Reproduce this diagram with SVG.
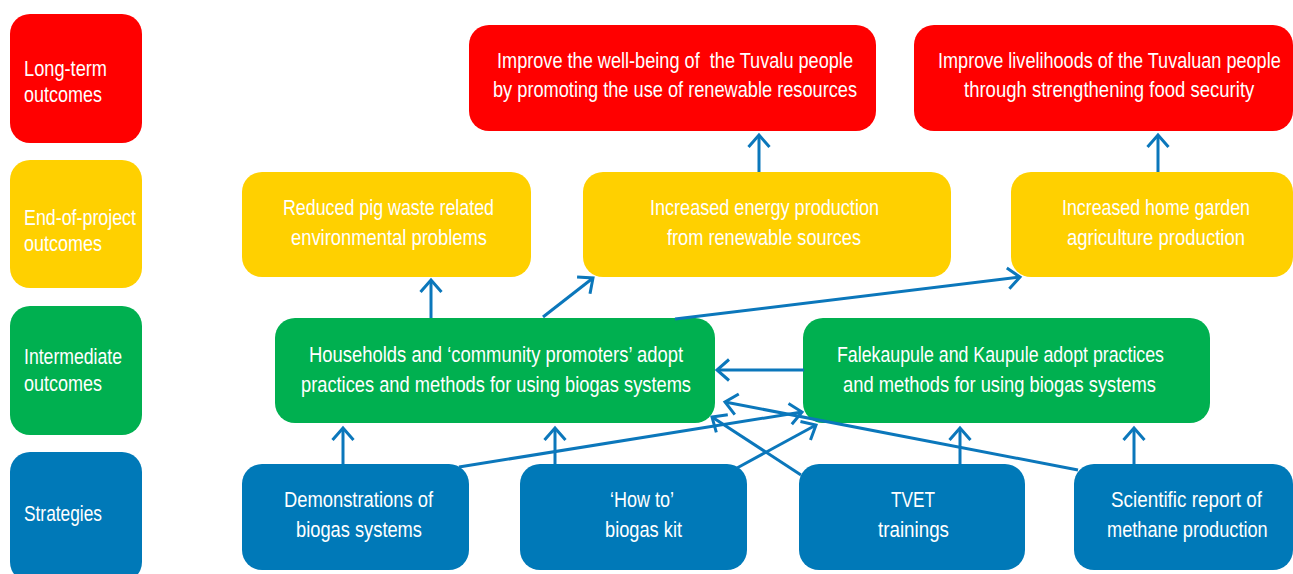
<svg xmlns="http://www.w3.org/2000/svg" width="1293" height="574" viewBox="0 0 1293 574">
<style>
  .lt{fill:#FF0000}
  .ep{fill:#FFD000}
  .im{fill:#00B050}
  .st{fill:#0079B8}
  text{font-family:"Liberation Sans Narrow","Liberation Sans",Arial,sans-serif;font-size:22px;fill:#FFFFFF}
  .c{stroke:#0B77BB;stroke-width:3;fill:none;marker-end:url(#ah)}
</style>
<defs>
  <marker id="ah" markerUnits="userSpaceOnUse" markerWidth="30" markerHeight="30" viewBox="-15 -15 30 30" refX="0" refY="0" orient="auto" overflow="visible">
    <path d="M-12,-10.5 L0,0 L-12,10.5" fill="none" stroke="#0B77BB" stroke-width="3" stroke-linejoin="miter"/>
  </marker>
</defs>
<rect width="1293" height="574" fill="#FFFFFF"/>

<g id="legend-longterm">
  <rect class="lt" x="10" y="14" width="132" height="129" rx="20"/>
  <text x="24" y="76" textLength="83" lengthAdjust="spacingAndGlyphs">Long-term</text>
  <text x="24" y="102" textLength="78" lengthAdjust="spacingAndGlyphs">outcomes</text>
</g>
<g id="legend-endofproject">
  <rect class="ep" x="10" y="160" width="132" height="128" rx="20"/>
  <text x="24" y="225" textLength="112" lengthAdjust="spacingAndGlyphs">End-of-project</text>
  <text x="24" y="251" textLength="78" lengthAdjust="spacingAndGlyphs">outcomes</text>
</g>
<g id="legend-intermediate">
  <rect class="im" x="10" y="306" width="132" height="129" rx="20"/>
  <text x="24" y="364" textLength="98" lengthAdjust="spacingAndGlyphs">Intermediate</text>
  <text x="24" y="391" textLength="78" lengthAdjust="spacingAndGlyphs">outcomes</text>
</g>
<g id="legend-strategies">
  <rect class="st" x="10" y="452" width="132" height="130" rx="20"/>
  <text x="24" y="521" textLength="78" lengthAdjust="spacingAndGlyphs">Strategies</text>
</g>

<g id="lt1">
  <rect class="lt" x="469" y="25" width="407" height="106" rx="20"/>
  <text x="497" y="68" textLength="356" lengthAdjust="spacingAndGlyphs" style="white-space:pre">Improve the well-being of  the Tuvalu people</text>
  <text x="493" y="97" textLength="364" lengthAdjust="spacingAndGlyphs">by promoting the use of renewable resources</text>
</g>
<g id="lt2">
  <rect class="lt" x="914" y="25" width="379" height="106" rx="20"/>
  <text transform="translate(938,68) scale(0.82,1)" x="0" y="0" textLength="418" lengthAdjust="spacingAndGlyphs">Improve livelihoods of the Tuvaluan people</text>
  <text transform="translate(964,97) scale(0.82,1)" x="0" y="0" textLength="354" lengthAdjust="spacingAndGlyphs">through strengthening food security</text>
</g>

<g id="ep1">
  <rect class="ep" x="242" y="172" width="289" height="105" rx="20"/>
  <text x="283" y="215" textLength="211" lengthAdjust="spacingAndGlyphs">Reduced pig waste related</text>
  <text x="291" y="245" textLength="196" lengthAdjust="spacingAndGlyphs">environmental problems</text>
</g>
<g id="ep2">
  <rect class="ep" x="583" y="172" width="368" height="105" rx="20"/>
  <text x="650" y="215" textLength="229" lengthAdjust="spacingAndGlyphs">Increased energy production</text>
  <text x="667" y="245" textLength="194" lengthAdjust="spacingAndGlyphs">from renewable sources</text>
</g>
<g id="ep3">
  <rect class="ep" x="1011" y="172" width="282" height="105" rx="20"/>
  <text x="1062" y="215" textLength="188" lengthAdjust="spacingAndGlyphs">Increased home garden</text>
  <text x="1067" y="245" textLength="178" lengthAdjust="spacingAndGlyphs">agriculture production</text>
</g>

<g id="im1">
  <rect class="im" x="275" y="318" width="440" height="105" rx="20"/>
  <text x="309" y="362" textLength="374" lengthAdjust="spacingAndGlyphs">Households and ‘community promoters’ adopt</text>
  <text x="301" y="392" textLength="390" lengthAdjust="spacingAndGlyphs">practices and methods for using biogas systems</text>
</g>
<g id="im2">
  <rect class="im" x="803" y="318" width="407" height="105" rx="20"/>
  <text x="837" y="362" textLength="327" lengthAdjust="spacingAndGlyphs">Falekaupule and Kaupule adopt practices</text>
  <text x="843" y="392" textLength="313" lengthAdjust="spacingAndGlyphs">and methods for using biogas systems</text>
</g>

<g id="st1">
  <rect class="st" x="242" y="464" width="227" height="106" rx="20"/>
  <text x="284" y="507" textLength="149" lengthAdjust="spacingAndGlyphs">Demonstrations of</text>
  <text x="296" y="537" textLength="126" lengthAdjust="spacingAndGlyphs">biogas systems</text>
</g>
<g id="st2">
  <rect class="st" x="520" y="464" width="227" height="106" rx="20"/>
  <text x="610" y="507" textLength="64" lengthAdjust="spacingAndGlyphs">‘How to’</text>
  <text x="605" y="537" textLength="77" lengthAdjust="spacingAndGlyphs">biogas kit</text>
</g>
<g id="st3">
  <rect class="st" x="799" y="464" width="226" height="106" rx="20"/>
  <text x="891" y="507" textLength="44" lengthAdjust="spacingAndGlyphs">TVET</text>
  <text x="878" y="537" textLength="71" lengthAdjust="spacingAndGlyphs">trainings</text>
</g>
<g id="st4">
  <rect class="st" x="1074" y="464" width="219" height="106" rx="20"/>
  <text transform="translate(1111,507) scale(0.82,1)" x="0" y="0" textLength="184" lengthAdjust="spacingAndGlyphs">Scientific report of</text>
  <text transform="translate(1107,537) scale(0.82,1)" x="0" y="0" textLength="196" lengthAdjust="spacingAndGlyphs">methane production</text>
</g>

<g id="connectors">
  <line class="c" x1="759" y1="172" x2="759" y2="135"/>
  <line class="c" x1="1158" y1="172" x2="1158" y2="135"/>
  <line class="c" x1="431" y1="318" x2="431" y2="280"/>
  <line class="c" x1="543" y1="317" x2="593" y2="278"/>
  <line class="c" x1="675" y1="319" x2="1020" y2="277"/>
  <line class="c" x1="804" y1="370" x2="717" y2="370"/>
  <line class="c" x1="343" y1="464" x2="343" y2="428"/>
  <line class="c" x1="555" y1="464" x2="555" y2="428"/>
  <line class="c" x1="960" y1="464" x2="960" y2="428"/>
  <line class="c" x1="1134" y1="464" x2="1134" y2="428"/>
  <line class="c" x1="459" y1="467" x2="802" y2="412"/>
  <line class="c" x1="737" y1="468" x2="816" y2="425"/>
  <line class="c" x1="801" y1="475" x2="712" y2="417"/>
  <line class="c" x1="1078" y1="470" x2="725" y2="402"/>
</g>
</svg>
